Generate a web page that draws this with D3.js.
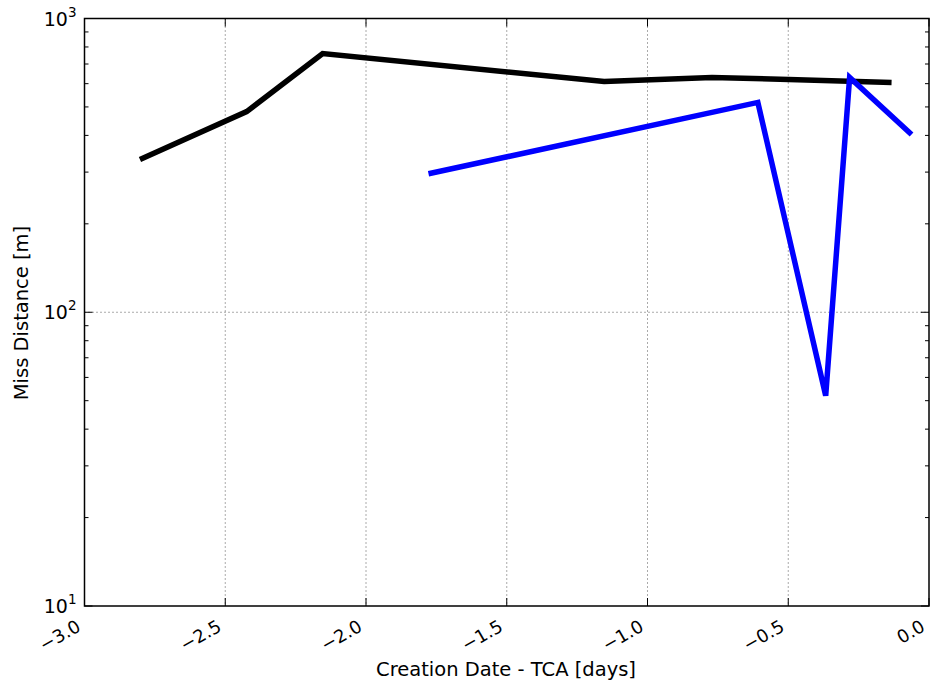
<!DOCTYPE html>
<html>
<head>
<meta charset="utf-8">
<script src="https://cdn.jsdelivr.net/npm/d3@7"></script>
<style>
  body { margin: 0; background: #fff; overflow: hidden; }
  text { font-family: "DejaVu Sans", sans-serif; fill: #000; }
</style>
</head>
<body>
<div id="chart"></div>
<script>
const w = 930;
const h = 682;

const margin = { left: 84.5, right: 1, top: 18.5, bottom: 76 };
const width = w - margin.left - margin.right;
const height = h - margin.top - margin.bottom;

// black series (days before TCA, miss distance m)
const blackDays = [-2.803, -2.424, -2.154, -1.154, -0.771, -0.498, -0.133];
const blackMiss = [331, 482, 760, 610, 630, 620, 605];

// blue series
const blueDays = [-1.778, -0.608, -0.367, -0.282, -0.062];
const blueMiss = [296, 518, 52, 630, 403];

const xTicks = [-3.0, -2.5, -2.0, -1.5, -1.0, -0.5, 0.0];
const yTicks = [10, 100, 1000];

const svg = d3.select("#chart")
    .append("svg")
    .attr("width", w)
    .attr("height", h)
    .style("display", "block");

const g = svg.append("g")
    .attr("transform", "translate(" + margin.left + "," + margin.top + ")");

const x = d3.scaleLinear().domain([-3, 0]).range([0, width]);
const y = d3.scaleLog().domain([10, 1000]).range([height, 0]);

// grid
g.selectAll(".vgrid")
    .data(xTicks.slice(1, -1))
    .enter()
    .append("line")
    .attr("x1", d => x(d)).attr("x2", d => x(d))
    .attr("y1", 0).attr("y2", height)
    .attr("stroke", "#555")
    .attr("stroke-width", 1)
    .attr("stroke-dasharray", "1,3");

g.selectAll(".hgrid")
    .data([100])
    .enter()
    .append("line")
    .attr("x1", 0).attr("x2", width)
    .attr("y1", d => y(d)).attr("y2", d => y(d))
    .attr("stroke", "#555")
    .attr("stroke-width", 1)
    .attr("stroke-dasharray", "1,3");

// minor ticks on log axis
let minor = [];
[10, 100].forEach(dec => {
    for (let k = 2; k <= 9; k++) minor.push(dec * k);
});

const tickG = g.append("g");
minor.forEach(v => {
    tickG.append("line").attr("x1", 0).attr("x2", 4).attr("y1", y(v)).attr("y2", y(v)).attr("stroke", "#000");
    tickG.append("line").attr("x1", width).attr("x2", width - 4).attr("y1", y(v)).attr("y2", y(v)).attr("stroke", "#000");
});
yTicks.forEach(v => {
    tickG.append("line").attr("x1", 0).attr("x2", 8).attr("y1", y(v)).attr("y2", y(v)).attr("stroke", "#000");
    tickG.append("line").attr("x1", width).attr("x2", width - 8).attr("y1", y(v)).attr("y2", y(v)).attr("stroke", "#000");
});
xTicks.forEach(v => {
    tickG.append("line").attr("x1", x(v)).attr("x2", x(v)).attr("y1", height).attr("y2", height - 8).attr("stroke", "#000");
    tickG.append("line").attr("x1", x(v)).attr("x2", x(v)).attr("y1", 0).attr("y2", 8).attr("stroke", "#000");
});

// lines
const line = d3.line()
    .x(d => x(d[0]))
    .y(d => y(d[1]));

g.append("path")
    .datum(d3.zip(blackDays, blackMiss))
    .attr("d", line)
    .attr("fill", "none")
    .attr("stroke", "#000")
    .attr("stroke-width", 5.5);

g.append("path")
    .datum(d3.zip(blueDays, blueMiss))
    .attr("d", line)
    .attr("fill", "none")
    .attr("stroke", "#0000ff")
    .attr("stroke-width", 5.5);

// frame
g.append("rect")
    .attr("width", width).attr("height", height)
    .attr("fill", "none")
    .attr("stroke", "#000")
    .attr("stroke-width", 1.5);

// y tick labels 10^n
yTicks.forEach(v => {
    let t = g.append("text")
        .attr("x", -8)
        .attr("y", y(v) + 7)
        .attr("text-anchor", "end")
        .style("font-size", "19px");
    t.append("tspan").text("10");
    t.append("tspan")
        .attr("dy", -9)
        .style("font-size", "13.5px")
        .text(Math.round(Math.log10(v)));
});

// x tick labels rotated
const fmt = d3.format(".1f");
xTicks.forEach(v => {
    g.append("text")
        .attr("transform", "translate(" + (x(v) - 9) + "," + (height + 13) + ") rotate(-30)")
        .attr("text-anchor", "end")
        .attr("dy", "0.7em")
        .style("font-size", "18px")
        .text(fmt(v).replace("-", "\u2212"));
});

// axis labels
svg.append("text")
    .attr("x", 506)
    .attr("y", 676)
    .attr("text-anchor", "middle")
    .style("font-size", "19.5px")
    .text("Creation Date - TCA [days]");

svg.append("text")
    .attr("transform", "translate(28," + 313 + ") rotate(-90)")
    .attr("text-anchor", "middle")
    .style("font-size", "19.5px")
    .text("Miss Distance [m]");
</script>
</body>
</html>
